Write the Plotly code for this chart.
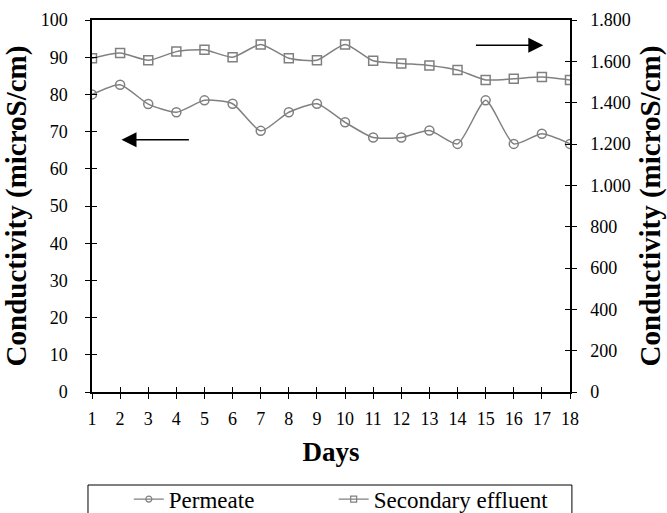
import plotly.graph_objects as go

days = list(range(1, 19))
permeate = [80.0, 82.6, 77.4, 75.2, 78.4, 77.5, 70.2, 75.2, 77.5, 72.5,
            68.4, 68.4, 70.3, 66.7, 78.4, 66.7, 69.4, 66.7]
secondary = [1615, 1640, 1605, 1647, 1656, 1620, 1682, 1615, 1605, 1682,
             1603, 1590, 1580, 1558, 1510, 1516, 1524, 1510]

left_ticks = list(range(0, 101, 10))
right_tickvals = [0, 200, 400, 600, 800, 1000, 1200, 1400, 1600, 1800]
right_ticktext = ["0", "200", "400", "600", "800", "1.000", "1.200", "1.400", "1.600", "1.800"]

FONT = "Liberation Serif, Times New Roman, serif"
GRAY = "#808080"

fig = go.Figure()
fig.add_trace(go.Scatter(
    x=days, y=permeate, name="Permeate", mode="lines+markers",
    line=dict(color=GRAY, width=1.5, shape="spline", smoothing=0.6),
    marker=dict(symbol="circle-open", size=9, color=GRAY, line=dict(width=1.5)),
    yaxis="y", showlegend=False))
fig.add_trace(go.Scatter(
    x=days, y=secondary, name="Secondary effluent", mode="lines+markers",
    line=dict(color=GRAY, width=1.5, shape="spline", smoothing=0.6),
    marker=dict(symbol="square-open", size=9, color=GRAY, line=dict(width=1.5)),
    yaxis="y2", showlegend=False))
# legend-only entries with the small legend symbols
fig.add_trace(go.Scatter(
    x=[None], y=[None], name="Permeate", mode="lines+markers",
    line=dict(color=GRAY, width=1.3),
    marker=dict(symbol="circle-open", size=6, color=GRAY, line=dict(width=1.2)),
    yaxis="y", hoverinfo="skip", legend="legend"))
fig.add_trace(go.Scatter(
    x=[None], y=[None], name="Secondary effluent", mode="lines+markers",
    line=dict(color=GRAY, width=1.3),
    marker=dict(symbol="square-open", size=6, color=GRAY, line=dict(width=1.2)),
    yaxis="y2", hoverinfo="skip", legend="legend2"))
# dummy traces to activate inside-tick overlay axes
fig.add_trace(go.Scatter(x=[None], y=[None], xaxis="x2", yaxis="y3",
                         showlegend=False, hoverinfo="skip"))
fig.add_trace(go.Scatter(x=[None], y=[None], xaxis="x2", yaxis="y4",
                         showlegend=False, hoverinfo="skip"))

tickfont = dict(family=FONT, size=18, color="black")
ytitlefont = dict(family=FONT, size=29, color="black", weight="bold")
xtitlefont = dict(family=FONT, size=27, color="black", weight="bold")
legfont = dict(family=FONT, size=23, color="black")

fig.update_layout(
    width=667, height=513,
    margin=dict(l=92, r=97, t=20, b=121),
    paper_bgcolor="white", plot_bgcolor="white",
    font=dict(family=FONT, color="black"),
    xaxis=dict(range=[1, 18], tickmode="array", tickvals=days,
               ticks="outside", ticklen=5, tickwidth=1.2, tickcolor="black",
               showline=True, linecolor="black", linewidth=1.5, mirror=True,
               showgrid=False, zeroline=False, tickfont=tickfont,
               ticklabelstandoff=5, automargin=False,
               title=dict(text="Days", font=xtitlefont, standoff=14)),
    xaxis2=dict(range=[1, 18], overlaying="x", anchor="y3", tickmode="array",
                tickvals=days, ticks="inside", ticklen=5, tickwidth=1.2,
                tickcolor="black", showticklabels=False, showline=False,
                showgrid=False, zeroline=False, automargin=False),
    yaxis=dict(range=[0, 100], tickmode="array", tickvals=left_ticks,
               ticks="outside", ticklen=5, tickwidth=1.2, tickcolor="black",
               showline=True, linecolor="black", linewidth=1.5,
               showgrid=False, zeroline=False, tickfont=tickfont,
               ticklabelstandoff=14, automargin=False,
               title=dict(text="Conductivity (microS/cm)", font=ytitlefont, standoff=6)),
    yaxis2=dict(range=[0, 1800], overlaying="y", side="right", anchor="x",
                tickmode="array", tickvals=right_tickvals, ticktext=right_ticktext,
                ticks="outside", ticklen=5, tickwidth=1.2, tickcolor="black",
                showline=True, linecolor="black", linewidth=1.5,
                showgrid=False, zeroline=False, tickfont=tickfont,
                ticklabelstandoff=10, automargin=False,
                title=dict(text="Conductivity (microS/cm)", font=ytitlefont, standoff=12)),
    yaxis3=dict(range=[0, 100], overlaying="y", anchor="x2", tickmode="array",
                tickvals=left_ticks, ticks="inside", ticklen=5, tickwidth=1.2,
                tickcolor="black", showticklabels=False, showline=False,
                showgrid=False, zeroline=False, automargin=False),
    yaxis4=dict(range=[0, 1800], overlaying="y", side="right", anchor="x2",
                tickmode="array", tickvals=right_tickvals, ticks="inside",
                ticklen=5, tickwidth=1.2, tickcolor="black",
                showticklabels=False, showline=False, showgrid=False,
                zeroline=False, automargin=False),
    showlegend=True,
    legend=dict(orientation="h", x=0.077, xanchor="left",
                y=0.027, yanchor="middle", yref="container",
                font=legfont, bgcolor="rgba(0,0,0,0)", borderwidth=0,
                itemsizing="trace"),
    legend2=dict(orientation="h", x=0.5056, xanchor="left",
                 y=0.027, yanchor="middle", yref="container",
                 font=legfont, bgcolor="rgba(0,0,0,0)", borderwidth=0,
                 itemsizing="trace"),
    shapes=[dict(type="rect", xref="paper", yref="paper",
                 x0=-0.0084, x1=1.004, y0=-0.25, y1=-0.40,
                 line=dict(color="black", width=1), fillcolor="rgba(0,0,0,0)",
                 layer="above")],
)

# direction arrows
fig.add_annotation(x=2.05, y=67.8, ax=4.5, ay=67.8, xref="x", yref="y",
                   axref="x", ayref="y", text="", showarrow=True,
                   arrowhead=2, arrowsize=2, arrowwidth=1.5, arrowcolor="black")
fig.add_annotation(x=17.05, y=93.2, ax=14.6, ay=93.2, xref="x", yref="y",
                   axref="x", ayref="y", text="", showarrow=True,
                   arrowhead=2, arrowsize=2, arrowwidth=1.5, arrowcolor="black")

fig.write_html("out.html", config={"displayModeBar": False},
               post_script="document.body.style.margin='0';")
